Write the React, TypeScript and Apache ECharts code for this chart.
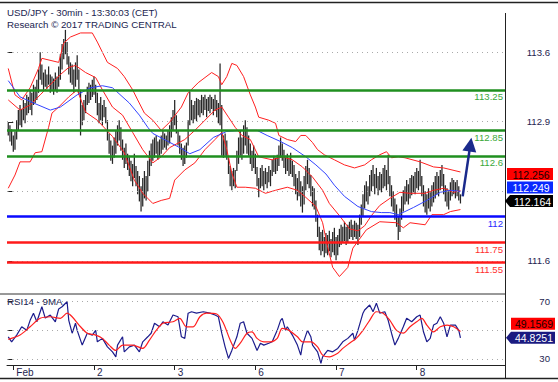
import React, { useEffect, useRef } from 'react';
import * as echarts from 'echarts';

// ---- price bars (30 min), index 0 = first visible bar ----
const lows = [
  112.80,112.74,112.70,112.64,112.66,112.76,112.85,112.90,112.88,112.95,
  112.92,113.00,113.02,113.05,113.00,113.10,113.12,113.15,113.22,113.35,
  113.30,113.25,113.28,113.26,113.30,113.22,113.25,113.20,113.24,113.22,
  113.28,113.35,113.45,113.55,113.60,113.50,113.40,113.32,113.30,113.22,
  113.28,113.35,113.20,112.80,112.90,112.95,113.02,113.10,113.12,113.15,
  113.18,113.20,113.12,113.00,112.92,112.95,112.90,112.98,112.92,112.75,
  112.62,112.55,112.52,112.58,112.62,112.70,112.75,112.65,112.56,112.48,
  112.52,112.46,112.40,112.35,112.30,112.38,112.30,112.22,112.15,112.05,
  112.10,112.18,112.16,112.25,112.40,112.50,112.55,112.58,112.62,112.56,
  112.60,112.62,112.66,112.68,112.66,112.70,112.72,112.78,112.85,112.90,
  112.82,112.70,112.62,112.56,112.50,112.52,112.58,112.70,112.90,112.95,
  112.92,112.96,112.94,113.00,112.98,113.02,113.00,113.05,112.98,113.04,
  113.02,113.06,113.00,113.04,112.98,112.92,112.90,112.60,112.58,112.60,
  112.56,112.42,112.30,112.26,112.30,112.28,112.45,112.52,112.60,112.56,
  112.62,112.70,112.62,112.60,112.52,112.45,112.48,112.42,112.30,112.19,
  112.28,112.30,112.26,112.32,112.28,112.34,112.30,112.40,112.44,112.42,
  112.45,112.50,112.58,112.55,112.48,112.42,112.45,112.40,112.42,112.39,
  112.30,112.22,112.16,112.20,112.10,112.04,112.12,112.26,112.32,112.28,
  112.20,112.10,112.07,111.95,111.80,111.67,111.62,111.66,111.60,111.64,
  111.62,111.66,111.60,111.65,111.62,111.57,111.62,111.70,111.72,111.74,
  111.76,111.72,111.75,111.78,111.80,111.77,111.80,111.78,111.72,111.80,
  111.92,112.00,112.08,112.15,112.12,112.20,112.25,112.30,112.22,112.28,
  112.21,112.26,112.24,112.28,112.30,112.26,112.32,112.20,112.10,112.05,
  111.97,111.90,111.77,111.85,111.97,112.05,112.12,112.15,112.12,112.18,
  112.21,112.24,112.22,112.28,112.26,112.30,112.20,112.10,112.04,112.02,
  112.08,112.05,112.10,112.14,112.18,112.22,112.20,112.26,112.30,112.22,
  112.15,112.10,112.07,112.16,112.20,112.22,112.18,112.20,112.16,112.13
];
const highs = [
  112.93,112.90,112.86,112.80,112.84,112.95,113.05,113.10,113.06,113.15,
  113.12,113.20,113.18,113.25,113.22,113.30,113.28,113.35,113.45,113.62,
  113.50,113.42,113.45,113.40,113.48,113.40,113.38,113.36,113.42,113.38,
  113.48,113.60,113.70,113.75,113.84,113.72,113.58,113.52,113.50,113.45,
  113.52,113.59,113.45,113.25,113.10,113.15,113.20,113.28,113.32,113.30,
  113.35,113.38,113.30,113.22,113.12,113.18,113.10,113.15,113.08,112.95,
  112.82,112.75,112.70,112.78,112.85,112.90,112.95,112.88,112.76,112.68,
  112.72,112.62,112.60,112.55,112.52,112.62,112.50,112.45,112.40,112.30,
  112.38,112.45,112.40,112.55,112.65,112.72,112.76,112.78,112.80,112.74,
  112.76,112.80,112.85,112.82,112.80,112.85,112.90,112.98,113.05,113.15,
  113.00,112.85,112.80,112.72,112.68,112.70,112.73,112.95,113.23,113.15,
  113.10,113.14,113.17,113.16,113.15,113.20,113.18,113.20,113.16,113.18,
  113.20,113.18,113.16,113.20,113.15,113.12,113.51,113.10,112.80,112.82,
  112.75,112.58,112.50,112.45,112.48,112.46,112.65,112.78,112.85,112.78,
  112.90,112.95,112.88,112.80,112.72,112.65,112.70,112.62,112.49,112.38,
  112.48,112.51,112.45,112.48,112.44,112.50,112.46,112.56,112.60,112.58,
  112.61,112.70,112.78,112.72,112.66,112.60,112.62,112.58,112.63,112.55,
  112.51,112.42,112.38,112.45,112.35,112.30,112.40,112.50,112.56,112.48,
  112.41,112.30,112.28,112.16,112.02,111.90,111.85,111.87,111.80,111.84,
  111.82,111.86,111.78,111.85,111.89,111.80,111.82,111.88,111.92,111.90,
  111.95,111.90,111.92,111.95,111.97,111.92,111.96,111.94,111.92,112.02,
  112.12,112.22,112.31,112.35,112.30,112.41,112.46,112.51,112.42,112.48,
  112.40,112.44,112.42,112.48,112.51,112.46,112.61,112.40,112.31,112.25,
  112.18,112.12,112.00,112.08,112.20,112.26,112.30,112.36,112.32,112.38,
  112.41,112.40,112.44,112.48,112.45,112.56,112.40,112.31,112.25,112.22,
  112.28,112.24,112.31,112.34,112.40,112.44,112.40,112.46,112.51,112.42,
  112.31,112.28,112.25,112.34,112.38,112.36,112.34,112.36,112.30,112.22
];
const lastClose = 112.164;

// ---- Bollinger bands and moving average: [bar index, price] ----
const upperBand = [
  [0,113.46],[4,113.20],[8,113.15],[13,113.27],[18,113.46],[20,113.56],[30,113.52],[33,113.71],[37,113.77],
  [43,113.81],[50,113.81],[53,113.72],[59,113.52],[65,113.46],[69,113.38],[74,113.25],[77,113.15],[81,113.02],
  [86,112.95],[91,112.85],[96,112.93],[103,113.08],[107,113.22],[113,113.32],[121,113.42],[125,113.38],[127,113.30],
  [130,113.38],[133,113.51],[136,113.49],[140,113.38],[144,113.20],[147,113.08],[149,112.98],[155,112.95],[159,112.92],
  [161,112.80],[166,112.76],[171,112.74],[174,112.80],[177,112.80],[181,112.73],[184,112.66],[188,112.61],[194,112.56],
  [200,112.51],[206,112.48],[212,112.51],[216,112.56],[221,112.61],[225,112.64],[228,112.58],[232,112.59],[236,112.58],
  [245,112.54],[253,112.49],[259,112.48],[269,112.44]
];
const middleBand = [
  [0,113.15],[7,113.05],[13,113.10],[19,113.20],[25,113.30],[31,113.40],[36,113.47],[40,113.49],[46,113.42],
  [52,113.37],[56,113.25],[62,113.08],[68,113.00],[74,112.83],[80,112.66],[86,112.53],[91,112.59],[96,112.68],
  [105,112.76],[111,112.85],[117,112.95],[123,113.05],[127,113.08],[131,112.98],[135,112.88],[139,112.80],[144,112.76],
  [149,112.59],[157,112.56],[163,112.59],[169,112.56],[175,112.49],[181,112.39],[187,112.26],[191,112.13],[197,112.01],
  [203,111.88],[208,111.86],[212,111.91],[216,112.01],[221,112.11],[227,112.18],[233,112.24],[239,112.23],[248,112.23],
  [253,112.26],[259,112.28],[265,112.24],[269,112.256]
];
const lowerBand = [
  [0,112.28],[4,112.41],[7,112.54],[13,112.54],[16,112.63],[20,112.64],[24,112.88],[26,113.02],[30,113.08],
  [36,113.18],[41,113.25],[46,113.03],[53,112.95],[62,112.79],[69,112.63],[75,112.36],[80,112.23],[86,112.13],
  [91,112.16],[96,112.18],[99,112.36],[105,112.46],[111,112.53],[117,112.66],[123,112.76],[127,112.83],[130,112.66],
  [133,112.43],[136,112.29],[141,112.29],[147,112.28],[153,112.23],[159,112.26],[166,112.29],[172,112.26],[177,112.19],
  [183,112.10],[187,111.94],[190,111.70],[193,111.50],[197,111.41],[202,111.50],[205,111.69],[213,111.87],[221,111.95],
  [231,111.94],[235,111.89],[239,111.94],[248,111.92],[252,112.02],[259,112.02],[263,112.05],[269,112.07]
];
const movingAvg = [
  [0,113.34],[7,113.18],[15,113.12],[25,113.05],[31,113.08],[41,113.20],[49,113.27],[56,113.29],[62,113.27],
  [72,113.12],[78,113.00],[83,112.88],[86,112.82],[94,112.75],[102,112.68],[108,112.62],[114,112.66],[122,112.78],
  [130,112.84],[138,112.85],[148,112.85],[154,112.80],[162,112.74],[169,112.68],[177,112.59],[183,112.51],[189,112.42],
  [194,112.31],[200,112.20],[208,112.10],[216,112.05],[222,112.04],[227,112.04],[232,112.02],[236,112.05],[241,112.09],
  [249,112.16],[257,112.24],[263,112.26],[269,112.249]
];
const maLast = 112.249;
const bandLast = 112.256;

// ---- RSI(14) and its 9-period MA ----
const rsi14 = [
  [0,45.5],[2,42],[5,46.7],[8,52.5],[11,50],[13,57],[15,62],[17,56],[20,66.5],[22,58.6],[25,60.7],[28,56],[30,65],
  [32,66.5],[35,70],[36,57],[38,48],[40,55],[41,50],[44,39.7],[47,48],[50,46.7],[52,50],[53,42],[56,44.4],[59,38.5],
  [62,35],[64,31.5],[65,39.7],[68,45.5],[69,35],[72,38.5],[75,39.7],[78,35],[80,42],[83,45.5],[85,48],[87,55],[90,52.5],
  [92,56],[95,53.7],[98,60.7],[101,59.5],[103,45.5],[105,44.4],[107,62],[109,63],[112,62],[116,63],[120,62],[123,60.7],
  [125,59.5],[127,48],[129,38.5],[131,30.4],[133,36],[136,45.5],[138,55],[140,56],[142,48],[145,44.4],[148,36],[150,41],
  [152,39.7],[155,41],[157,42],[160,50],[162,57],[163,58.4],[165,50],[166,52.5],[169,46.7],[172,39.7],[174,32.7],
  [175,39.7],[178,50],[180,45.5],[181,39.7],[184,35],[186,27],[187,31.5],[190,36],[193,35],[196,37.4],[199,42],
  [202,44.4],[205,48],[206,43.2],[208,50],[211,62],[212,64.2],[215,67.7],[217,63],[219,69],[221,62],[224,63],[226,57],
  [228,48],[230,39.7],[232,44.4],[235,52.5],[237,58.4],[240,56],[243,59.5],[245,60.7],[247,49],[249,42],[251,44.4],
  [253,53.7],[255,55],[257,59.5],[259,55],[261,45.5],[263,53.7],[266,53.7],[268,50],[269,44.8251]
];
const rsiMA = [
  [0,43.7],[7,46.7],[13,52.5],[19,58.4],[25,59.5],[31,58.4],[35,62],[38,59.5],[43,52.5],[47,48],[52,46.7],[56,44.4],
  [60,39.7],[64,36],[68,39.7],[74,39.7],[80,37.4],[84,43.2],[88,50],[92,55],[98,56],[102,58.4],[106,52.5],[110,52.5],
  [114,59.5],[118,62],[124,61.4],[128,55],[132,43.2],[135,37.4],[138,41],[142,48],[145,49],[148,44.4],[152,42],[156,42],
  [160,44.4],[163,51.4],[167,50],[172,45.5],[175,42],[180,42],[184,38.5],[187,32.7],[191,31.5],[196,34],[199,37.4],
  [203,41],[207,44.4],[211,50],[215,57],[219,63],[223,62],[227,57],[231,50],[235,48],[239,52.5],[243,56],[246,58.4],
  [249,53.7],[253,49],[257,52.5],[261,53.7],[265,52.5],[269,49.1569]
];
const rsiLast = 44.8251;
const rsiMALast = 49.1569;

// ---- levels, ticks, labels ----
const levels = [113.25, 112.85, 112.6, 112, 111.75, 111.55];
const levelLabels = ['113.25', '112.85', '112.6', '112', '111.75', '111.55'];
const levelKinds = ['res', 'res', 'res', 'pivot', 'sup', 'sup'];
const priceTicks = [111.565, 112.25, 112.935, 113.62];
const priceLabelTicks = [111.565, 112.935, 113.62];
const priceTickLabels = ['111.6', '112.9', '113.6'];
const rsiTicks = [30, 50, 70];
const rsiLabelTicks = [30, 70];
const dayTicks = [3, 51, 99, 147, 195, 243];
const dayLabels = ['Feb', '2', '3', '6', '7', '8'];
const arrowFrom = [270.3, 112.2];
const arrowTo = [274.9, 112.71];

const FONT = '"Liberation Sans", Arial, sans-serif';
const kindColor: Record<string, string> = { res: '#1f8f1f', pivot: '#0a0aff', sup: '#ff1a1a' };
const kindLabel: Record<string, string> = { res: '#3aa83a', pivot: '#2a2aff', sup: '#ff3030' };

export default function App() {
  const ref = useRef<HTMLDivElement>(null);
  useEffect(() => {
    const chart = echarts.init(ref.current!, null, { renderer: 'svg' });
    const barData = lows.map((l, i) => [i, l, highs[i]]);
    const xCommon = { type: 'value', min: -0.75, max: 295.5 };
    chart.setOption({
      animation: false,
      textStyle: { fontFamily: FONT },
      grid: [
        { left: 7, right: 53, top: 3, height: 291 },
        { left: 7, right: 53, top: 294, height: 71 }
      ],
      xAxis: [
        { ...xCommon, gridIndex: 0, show: false },
        {
          ...xCommon, gridIndex: 1,
          axisLine: { show: true, lineStyle: { color: '#222', width: 1 } },
          splitLine: { show: false },
          axisTick: { show: true, customValues: dayTicks, length: 5, lineStyle: { color: '#222' } },
          axisLabel: {
            customValues: dayTicks, margin: 2, align: 'left', padding: [0, 0, 0, 3],
            fontSize: 10, color: '#1e1e50', fontFamily: FONT,
            formatter: (v: number) => dayLabels[dayTicks.indexOf(Math.round(v))] ?? ''
          }
        }
      ],
      yAxis: [
        {
          type: 'value', gridIndex: 0, position: 'right', min: 111.238, max: 114.105,
          axisLine: { show: false }, splitLine: { show: false },
          axisTick: { show: true, customValues: priceTicks, length: 5, lineStyle: { color: '#222' } },
          axisLabel: {
            customValues: priceLabelTicks, align: 'right', margin: 45, fontSize: 9.6, color: '#1e1e50', fontFamily: FONT,
            formatter: (v: number) => {
              const k = priceLabelTicks.findIndex((t) => Math.abs(t - v) < 1e-6);
              return k >= 0 ? priceTickLabels[k] : '';
            }
          }
        },
        {
          type: 'value', gridIndex: 1, position: 'right', min: 25.8, max: 75.4,
          axisLine: { show: false }, splitLine: { show: false },
          axisTick: { show: true, customValues: rsiTicks, length: 5, lineStyle: { color: '#222' } },
          axisLabel: { customValues: rsiLabelTicks, align: 'right', margin: 45, fontSize: 9.6, color: '#1e1e50', fontFamily: FONT }
        }
      ],
      series: [
        {
          type: 'line', xAxisIndex: 0, yAxisIndex: 0, data: [], silent: true,
          markLine: {
            silent: true, symbol: 'none', label: { show: false },
            lineStyle: { type: [1, 4], color: '#aaa', width: 1 },
            data: priceTicks.map((t) => ({ yAxis: t }))
          }
        },
        {
          type: 'line', xAxisIndex: 1, yAxisIndex: 1, data: [], silent: true,
          markLine: {
            silent: true, symbol: 'none', label: { show: false },
            lineStyle: { type: [1, 4], color: '#aaa', width: 1 },
            data: rsiTicks.map((t) => ({ yAxis: t }))
          }
        },
        {
          type: 'custom', xAxisIndex: 0, yAxisIndex: 0, data: barData, z: 3,
          encode: { x: 0, y: [1, 2] },
          renderItem: (_p: any, api: any) => {
            const x = api.value(0);
            const a = api.coord([x, api.value(1)]);
            const b = api.coord([x, api.value(2)]);
            return {
              type: 'line',
              shape: { x1: a[0], y1: a[1], x2: b[0], y2: b[1] },
              style: { stroke: '#262626', lineWidth: 1.25 }
            };
          },
          markLine: {
            silent: true, symbol: 'none',
            data: levels.map((v, i) => ({
              yAxis: v,
              lineStyle: { color: kindColor[levelKinds[i]], width: 2.5, type: 'solid' },
              label: {
                show: true, position: 'insideEndBottom', formatter: levelLabels[i], distance: [2, 2],
                color: kindLabel[levelKinds[i]], fontSize: 9.6, fontFamily: FONT
              }
            }))
          }
        },
        { type: 'line', xAxisIndex: 0, yAxisIndex: 0, data: upperBand, showSymbol: false, z: 4, lineStyle: { color: '#ff2020', width: 1 } },
        { type: 'line', xAxisIndex: 0, yAxisIndex: 0, data: middleBand, showSymbol: false, z: 4, lineStyle: { color: '#ff2020', width: 1 } },
        { type: 'line', xAxisIndex: 0, yAxisIndex: 0, data: lowerBand, showSymbol: false, z: 4, lineStyle: { color: '#ff2020', width: 1 } },
        {
          type: 'line', xAxisIndex: 0, yAxisIndex: 0, data: movingAvg, showSymbol: false, z: 4,
          lineStyle: { color: '#3344ff', width: 1 }
        },
        {
          type: 'line', xAxisIndex: 0, yAxisIndex: 0, data: [], silent: true, z: 6,
          markLine: {
            silent: true, symbol: ['none', 'triangle'], symbolSize: 14,
            label: { show: false },
            lineStyle: { color: '#1a2a8c', width: 2.5, type: 'solid' },
            itemStyle: { color: '#1a2a8c' },
            data: [[{ coord: arrowFrom }, { coord: arrowTo }]]
          }
        },
        { type: 'line', xAxisIndex: 1, yAxisIndex: 1, data: rsi14, showSymbol: false, z: 4, lineStyle: { color: '#1c1c8c', width: 1.2 } },
        { type: 'line', xAxisIndex: 1, yAxisIndex: 1, data: rsiMA, showSymbol: false, z: 4, smooth: 0.3, lineStyle: { color: '#ff2020', width: 1.2 } }
      ]
    });

    const py = (v: number) => chart.convertToPixel({ yAxisIndex: 0 }, v) as number;
    const ry = (v: number) => chart.convertToPixel({ yAxisIndex: 1 }, v) as number;
    const tagFont = `10.5px ${FONT}`;
    const boxTag = (cy: number, text: string, fill: string, color: string, x0: number, x1: number) => [
      { type: 'rect', z: 100, shape: { x: x0, y: cy - 6, width: x1 - x0, height: 12 }, style: { fill } },
      { type: 'text', z: 101, style: { text, x: (x0 + x1) / 2 + 1, y: cy + 0.5, fill: color, font: tagFont, align: 'center', verticalAlign: 'middle' } }
    ];
    const arrowTag = (cy: number, text: string, fill: string, color: string, x0: number, x1: number) => [
      {
        type: 'polygon', z: 100,
        shape: { points: [[x0, cy], [x0 + 5, cy - 6], [x1, cy - 6], [x1, cy + 6], [x0 + 5, cy + 6]] },
        style: { fill }
      },
      { type: 'text', z: 101, style: { text, x: (x0 + 5 + x1) / 2 + 1, y: cy + 0.5, fill: color, font: tagFont, align: 'center', verticalAlign: 'middle' } }
    ];
    const yClose = py(lastClose) + 1;
    const yMa = Math.min(py(maLast), yClose - 13.5);
    const yBand = Math.min(py(bandLast), yMa - 13.5);
    const yRsi = ry(rsiLast);
    const yRsiMa = Math.min(ry(rsiMALast), yRsi - 14);

    chart.setOption({
      graphic: [
        { type: 'line', z: 50, shape: { x1: 0, y1: 2.5, x2: 558, y2: 2.5 }, style: { stroke: '#222', lineWidth: 1.5 } },
        { type: 'line', z: 50, shape: { x1: 0, y1: 294, x2: 505, y2: 294 }, style: { stroke: '#333', lineWidth: 1 } },
        { type: 'line', z: 50, shape: { x1: 0, y1: 378.5, x2: 558, y2: 378.5 }, style: { stroke: '#222', lineWidth: 1.5 } },
        { type: 'line', z: 50, shape: { x1: 505.5, y1: 13, x2: 505.5, y2: 378 }, style: { stroke: '#222', lineWidth: 1 } },
        { type: 'text', z: 60, style: { text: 'USD/JPY - 30min - 13:30:03 (CET)', x: 7, y: 12, fill: '#1a2450', font: `9.7px ${FONT}`, verticalAlign: 'middle' } },
        { type: 'text', z: 60, style: { text: 'Research \u00a9 2017 TRADING CENTRAL', x: 7, y: 24, fill: '#1a2450', font: `9.7px ${FONT}`, verticalAlign: 'middle' } },
        { type: 'text', z: 60, style: { text: 'RSI14 - 9MA', x: 7, y: 301, fill: '#1a2450', font: `9.7px ${FONT}`, verticalAlign: 'middle' } },
        ...boxTag(yBand, '112.256', '#ff0000', '#1a0000', 507, 553),
        ...boxTag(yMa, '112.249', '#0a2aff', '#ffffff', 507, 553),
        ...arrowTag(yClose, '112.164', '#000000', '#ffffff', 505, 553),
        ...boxTag(yRsiMa, '49.1569', '#ff0000', '#1a0000', 511, 555),
        ...arrowTag(yRsi, '44.8251', '#1a1a80', '#ffffff', 506, 555)
      ]
    });
    return () => chart.dispose();
  }, []);
  return <div ref={ref} style={{ position: 'absolute', left: 0, top: 0, width: 558, height: 382 }} />;
}
